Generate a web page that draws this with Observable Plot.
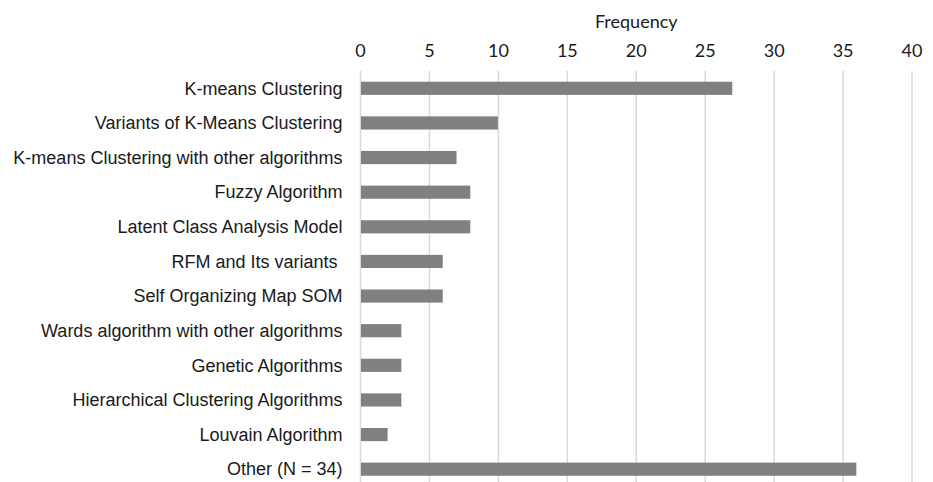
<!DOCTYPE html>
<html>
<head>
<meta charset="utf-8">
<script src="https://cdn.jsdelivr.net/npm/d3@7"></script>
<script src="https://cdn.jsdelivr.net/npm/@observablehq/plot@0.6"></script>
<style>
  html, body { margin: 0; padding: 0; background: #fff; }
  #chart svg { display: block; }
</style>
</head>
<body>
<div id="chart"></div>
<script>
const categories = [
  "K-means Clustering",
  "Variants of K-Means Clustering",
  "K-means Clustering with other algorithms",
  "Fuzzy Algorithm",
  "Latent Class Analysis Model",
  "RFM and Its variants ",
  "Self Organizing Map SOM",
  "Wards algorithm with other algorithms",
  "Genetic Algorithms",
  "Hierarchical Clustering Algorithms",
  "Louvain Algorithm",
  "Other (N = 34)"
];
const frequencies = [27, 10, 7, 8, 8, 6, 6, 3, 3, 3, 2, 36];
const xTicks = [0, 5, 10, 15, 20, 25, 30, 35, 40];
const xLabel = "Frequency";

const data = categories.map((c, i) => ({category: c, value: frequencies[i]}));

const chart = Plot.plot({
  width: 933,
  height: 482,
  marginLeft: 360,
  marginRight: 21.5,
  marginTop: 71,
  marginBottom: 0,
  style: {background: "#fff", overflow: "visible"},
  x: {domain: [0, 40], ticks: xTicks},
  y: {domain: categories, range: [71, 486.5], paddingInner: 0.62, paddingOuter: 0.31, round: false},
  marks: [
    Plot.gridX(xTicks, {stroke: "#d9d9d9", strokeOpacity: 1, strokeWidth: 1.5}),
    Plot.barX(data, {y: "category", x: "value", fill: "#808080", insetLeft: 1}),
    Plot.axisX({
      anchor: "top", ticks: xTicks, tickSize: 0, tickPadding: 15,
      fontSize: 18, fontFamily: "Lato", fill: "#1a1a1a",
      label: xLabel, labelAnchor: "center", labelArrow: "none", labelOffset: 56
    }),
    Plot.axisY({
      anchor: "left", tickSize: 0, tickPadding: 18, label: null,
      fontSize: 18, fontFamily: "Liberation Sans", fill: "#1a1a1a"
    })
  ]
});
document.getElementById("chart").appendChild(chart);
</script>
</body>
</html>
